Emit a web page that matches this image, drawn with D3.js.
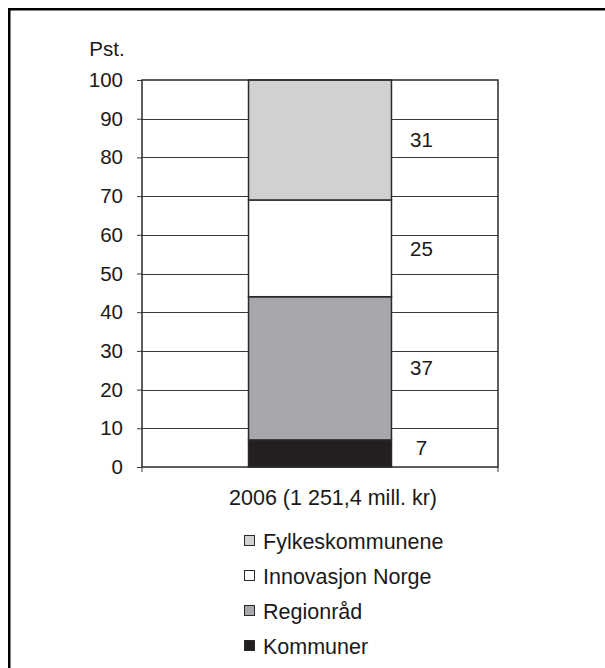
<!DOCTYPE html>
<html>
<head>
<meta charset="utf-8">
<script src="https://cdn.jsdelivr.net/npm/d3@7"></script>
<style>
    body { margin: 0; background: #fff; }
    svg { display: block; font-family: "Liberation Sans", Arial, sans-serif; }
</style>
</head>
<body>
<div id="chart"></div>
<script>
// data
var categories = ["2006"];
var categoryLabel = "2006 (1 251,4 mill. kr)";
var seriesNames = ["Kommuner", "Regionråd", "Innovasjon Norge", "Fylkeskommunene"];
var seriesValues = [7, 37, 25, 31];
var seriesColors = ["#231f20", "#a7a8ab", "#ffffff", "#d0d1d3"];
var yTicks = [0, 10, 20, 30, 40, 50, 60, 70, 80, 90, 100];
var yLabel = "Pst.";

var width = 605, height = 668;
var margin = { left: 142, right: 107, top: 80, bottom: 201 };
var innerW = width - margin.left - margin.right;
var innerH = height - margin.top - margin.bottom;
var fontSize = "20.5px";
var bigFont = "21.5px";

var svg = d3.select("#chart")
    .append("svg")
    .attr("width", width)
    .attr("height", height);

// outer frame
svg.append("rect")
    .attr("x", 9.25)
    .attr("y", 9.25)
    .attr("width", 700)
    .attr("height", 800)
    .attr("fill", "none")
    .attr("stroke", "#000")
    .attr("stroke-width", 2.5);

var g = svg.append("g")
    .attr("transform", "translate(" + margin.left + "," + margin.top + ")");

var x = d3.scaleBand().domain(categories).range([0, innerW]).padding(0.427);
var y = d3.scaleLinear().domain([0, 100]).range([innerH, 0]);

// stack
var stacked = [];
var acc = 0;
seriesValues.forEach(function (v, i) {
    stacked.push({ name: seriesNames[i], value: v, y0: acc, y1: acc + v, color: seriesColors[i] });
    acc += v;
});

// gridlines
g.append("g")
    .selectAll("line")
    .data(yTicks.filter(function (d) { return d > 0 && d < 100; }))
    .enter().append("line")
    .attr("x1", 0)
    .attr("x2", innerW)
    .attr("y1", function (d) { return Math.round(y(d)) + 0.5; })
    .attr("y2", function (d) { return Math.round(y(d)) + 0.5; })
    .attr("stroke", "#3a3a3a")
    .attr("stroke-width", 1);

// y axis
var yAxis = g.append("g")
    .call(d3.axisLeft(y).tickValues(yTicks).tickSize(5).tickPadding(14));
yAxis.select(".domain").remove();
yAxis.selectAll(".tick line").attr("stroke", "#3a3a3a");
yAxis.selectAll("text")
    .attr("font-size", fontSize)
    .attr("font-family", "Liberation Sans, Arial, sans-serif")
    .attr("fill", "#1a1a1a");

// bottom ticks at edges
g.append("g")
    .selectAll("line")
    .data([0, innerW])
    .enter().append("line")
    .attr("x1", function (d) { return d; })
    .attr("x2", function (d) { return d; })
    .attr("y1", innerH)
    .attr("y2", innerH + 5)
    .attr("stroke", "#3a3a3a");

// bars
g.append("g")
    .selectAll("rect")
    .data(stacked)
    .enter().append("rect")
    .attr("x", x(categories[0]))
    .attr("width", x.bandwidth())
    .attr("y", function (d) { return y(d.y1); })
    .attr("height", function (d) { return y(d.y0) - y(d.y1); })
    .attr("fill", function (d) { return d.color; })
    .attr("stroke", "#2a2a2a")
    .attr("stroke-width", 1.5);

// plot frame
g.append("rect")
    .attr("x", 0)
    .attr("y", 0)
    .attr("width", innerW)
    .attr("height", innerH)
    .attr("fill", "none")
    .attr("stroke", "#2a2a2a")
    .attr("stroke-width", 1.5);

// value labels (small segments nudged up a little, as in the original)
g.append("g")
    .selectAll("text")
    .data(stacked)
    .enter().append("text")
    .attr("x", x(categories[0]) + x.bandwidth() + 30)
    .attr("y", function (d) { return y(Math.max((d.y0 + d.y1) / 2, d.y0 + 5)); })
    .attr("dy", "0.35em")
    .attr("text-anchor", "middle")
    .attr("font-size", fontSize)
    .attr("fill", "#1a1a1a")
    .text(function (d) { return d.value; });

// y label
svg.append("text")
    .attr("x", 107)
    .attr("y", 56)
    .attr("text-anchor", "middle")
    .attr("font-size", fontSize)
    .attr("fill", "#1a1a1a")
    .text(yLabel);

// x label
g.append("text")
    .attr("x", x(categories[0]) + x.bandwidth() / 2 + 13)
    .attr("y", innerH + 38)
    .attr("text-anchor", "middle")
    .attr("font-size", bigFont)
    .attr("fill", "#1a1a1a")
    .text(categoryLabel);

// legend (reverse order, top entry is top of stack)
var legend = svg.append("g")
    .attr("transform", "translate(244, 541)");

var rows = legend.selectAll("g")
    .data(stacked.slice().reverse())
    .enter().append("g")
    .attr("transform", function (d, i) { return "translate(0," + (i * 35) + ")"; });

rows.append("rect")
    .attr("x", 0.5)
    .attr("y", -5.5)
    .attr("width", 10)
    .attr("height", 10)
    .attr("fill", function (d) { return d.color; })
    .attr("stroke", "#2a2a2a")
    .attr("stroke-width", 1);

rows.append("text")
    .attr("x", 19)
    .attr("y", 0)
    .attr("dy", "0.35em")
    .attr("font-size", bigFont)
    .attr("fill", "#1a1a1a")
    .text(function (d) { return d.name; });
</script>
</body>
</html>
